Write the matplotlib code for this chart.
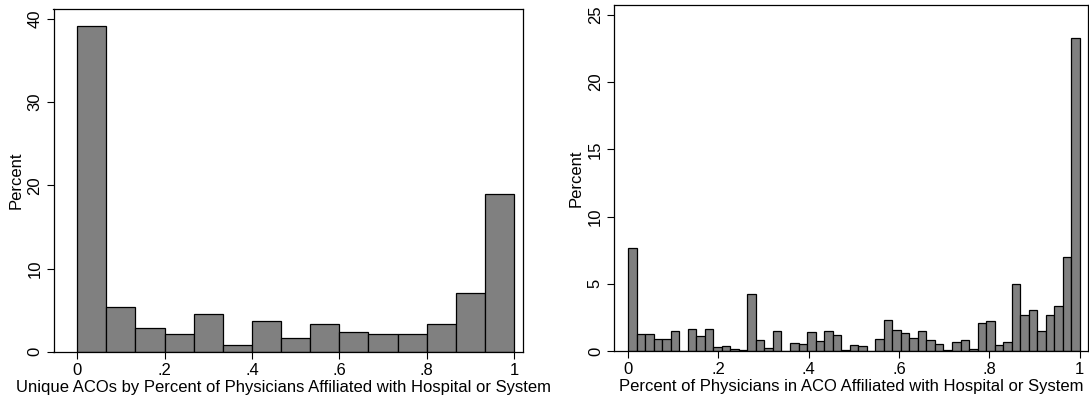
import numpy as np
import matplotlib
matplotlib.use("Agg")
import matplotlib.pyplot as plt

plt.rcParams['font.family'] = ['Liberation Sans', 'DejaVu Sans']

# left histogram: unique ACOs, 15 bins over [0, 1]
left_pct = [39.16, 5.37, 2.81, 2.08, 4.53, 0.76, 3.69, 1.60, 3.29, 2.40,
            2.08, 2.08, 3.29, 7.05, 18.92]

# right histogram: physicians in ACOs, 53 bins over [0, 1]
right_pct = [7.65, 1.29, 1.29, 0.90, 0.90, 1.49, 0.00, 1.62, 1.12, 1.62,
             0.27, 0.40, 0.17, 0.05, 4.23, 0.85, 0.25, 1.52, 0.00, 0.62,
             0.55, 1.44, 0.77, 1.49, 1.19, 0.10, 0.47, 0.35, 0.00, 0.90,
             2.34, 1.59, 1.34, 0.95, 1.52, 0.82, 0.55, 0.05, 0.70, 0.85,
             0.15, 2.06, 2.26, 0.47, 0.70, 4.95, 2.66, 3.08, 1.52, 2.71,
             3.36, 6.99, 23.30]

xticks = [0, 0.2, 0.4, 0.6, 0.8, 1]
xtick_labels = ['0', '.2', '.4', '.6', '.8', '1']
left_yticks = [0, 10, 20, 30, 40]
right_yticks = [0, 5, 10, 15, 20, 25]

left_xlabel = 'Unique ACOs by Percent of Physicians Affiliated with Hospital or System'
right_xlabel = 'Percent of Physicians in ACO Affiliated with Hospital or System'

W, H = 1089, 399
fig = plt.figure(figsize=(W / 100, H / 100), dpi=100)


def px_axes(x0, y0, x1, y1):
    # pixel box (left, top, right, bottom) -> figure fraction
    return fig.add_axes([x0 / W, (H - y1) / H, (x1 - x0) / W, (y1 - y0) / H])


def draw_hist(ax, vals, yticks, xlab, xlim, ylim):
    edges = np.linspace(0, 1, len(vals) + 1)
    ax.bar(edges[:-1], vals, width=np.diff(edges), align='edge',
           color='#808080', edgecolor='black', linewidth=0.9)
    ax.set_xlim(*xlim)
    ax.set_ylim(*ylim)
    ax.set_xticks(xticks)
    ax.set_xticklabels(xtick_labels)
    ax.set_yticks(yticks)
    ax.set_yticklabels([str(t) for t in yticks], rotation=90, va='center')
    ax.tick_params(direction='out', length=5, width=0.8, labelsize=12, pad=3)
    ax.set_xlabel(xlab, fontsize=12, labelpad=1)
    ax.set_ylabel('Percent', fontsize=12, labelpad=3)
    for s in ax.spines.values():
        s.set_linewidth(0.9)


ax1 = px_axes(53.5, 9.3, 523.3, 351.7)
draw_hist(ax1, left_pct, left_yticks, left_xlabel, (-0.054, 1.021), (0, 41.17))
# label sits a touch left of the axes centre in the original
ax1.xaxis.set_label_coords(0.49, -0.083)
ax1.xaxis.label.set_va('top')

ax2 = px_axes(614, 5.3, 1088, 351)
draw_hist(ax2, right_pct, right_yticks, right_xlabel, (-0.031, 1.018), (0, 25.72))

fig.savefig('out.png', dpi=100)
